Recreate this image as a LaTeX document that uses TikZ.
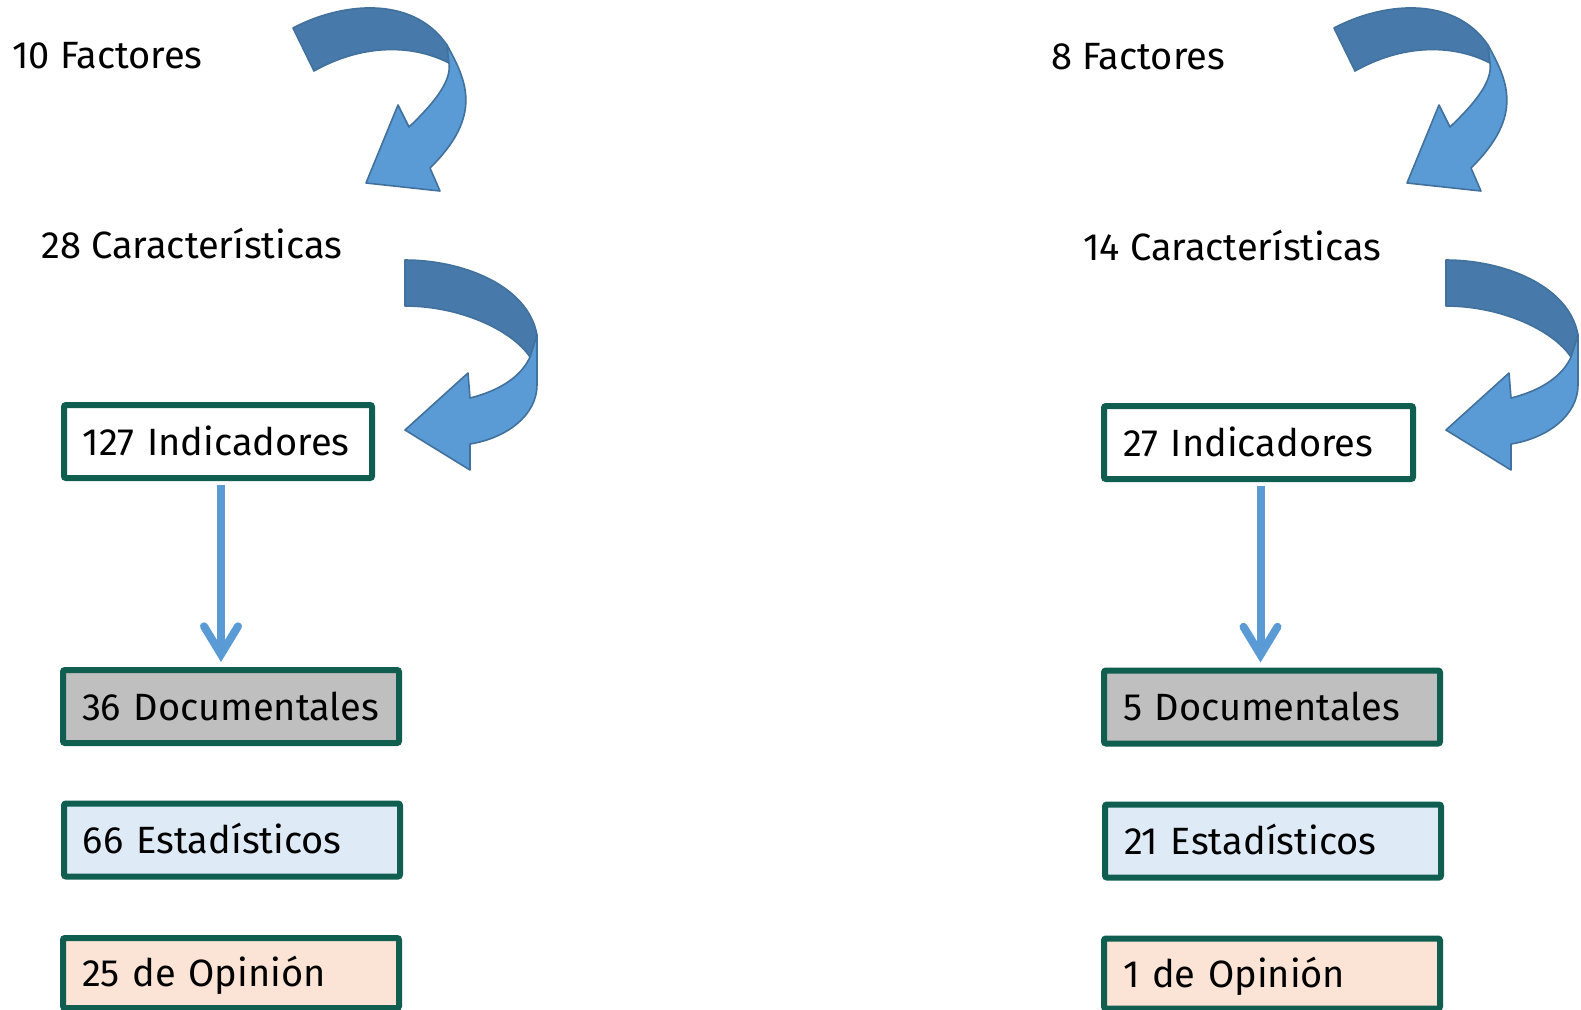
\documentclass[tikz,border=0pt]{standalone}
\usepackage{fontspec}
\setmainfont{Fira Sans}
\usetikzlibrary{arrows.meta}
\definecolor{verde}{RGB}{16,94,80}
\definecolor{gris}{RGB}{191,191,191}
\definecolor{celeste}{RGB}{222,235,247}
\definecolor{durazno}{RGB}{251,228,213}
\definecolor{azul}{RGB}{91,155,213}
\definecolor{azulosc}{RGB}{71,122,171}
\definecolor{borde}{RGB}{65,113,156}
\begin{document}
\begin{tikzpicture}[x=0.5pt, y=-0.5pt,
    every node/.style={font=\fontsize{19pt}{23pt}\selectfont},
    titulo/.style={anchor=base west, inner sep=0pt},
    caja/.style={draw=verde, line width=3pt, rounded corners=1pt, anchor=west,
        text width=#1, align=left, inner xsep=9.5pt, minimum height=36.5pt,
        text height=13.5pt, text depth=0pt},
    baja/.style={draw=azul, line width=4pt,
        -{Straight Barb[length=14pt, width=17pt, line cap=round]}},
    atras/.style={fill=azulosc, draw=borde, line width=0.8pt, line join=round},
    frente/.style={fill=azul, draw=borde, line width=0.8pt, line join=round}]
    \useasboundingbox (0,0) rectangle (1581,1009);

    % columna izquierda
    \node[titulo] (fac1) at (12,68) {10 Factores};
    \node[titulo] (car1) at (41,258) {28 Características};
    \node[caja=135pt, fill=white] (ind1) at (61,441.5) {127 Indicadores};
    \node[caja=149pt, fill=gris] (doc1) at (60,706.5) {36 Documentales};
    \node[caja=149pt, fill=celeste] (est1) at (61,840) {66 Estadísticos};
    \node[caja=149pt, fill=durazno, minimum height=35pt] (opi1) at (60,973) {25 de Opinión};

    % columna derecha
    \node[titulo] (fac2) at (1051,69) {8 Factores};
    \node[titulo] (car2) at (1083,260) {14 Características};
    \node[caja=135.5pt, fill=white] (ind2) at (1101,442.5) {27 Indicadores};
    \node[caja=149pt, fill=gris] (doc2) at (1101,707) {5 Documentales};
    \node[caja=149pt, fill=celeste] (est2) at (1102,841) {21 Estadísticos};
    \node[caja=149pt, fill=durazno, minimum height=35pt] (opi2) at (1101,973.5) {1 de Opinión};

    \draw[baja, shorten <=2pt, shorten >=2.5pt] ([xshift=1.5pt]ind1.south) -- ([xshift=1.5pt]ind1.south |- doc1.north);
    \draw[baja, shorten <=2pt, shorten >=2.5pt] ([xshift=1pt]ind2.south) -- ([xshift=1pt]ind2.south |- doc2.north);

    % flechas curvas
    \foreach \dx in {0,1041} {
      \begin{scope}[xshift=\dx*0.5pt]
        \path[atras] (293,28) .. controls (340,3) and (412,-6) .. (447,45) -- (449,63)
            .. controls (410,43) and (360,45) .. (314,71) -- cycle;
        \path[frente] (447,45) .. controls (466,80) and (484,115) .. (430,168) -- (440,191)
            -- (366,183) -- (398,105) -- (409,127) .. controls (432,105) and (452,82) .. (449,63) -- cycle;
        \path[atras] (405,260) .. controls (462,260) and (528,285) .. (537,335) -- (530,357)
            .. controls (512,330) and (460,306) .. (405,306) -- cycle;
        \path[frente] (537,335) -- (537,385) .. controls (537,415) and (507,438) .. (470,444)
            -- (470,470) -- (405,430) -- (468,373) -- (470,398)
            .. controls (502,390) and (522,375) .. (530,357) -- cycle;
      \end{scope}
    }
\end{tikzpicture}
\end{document}
